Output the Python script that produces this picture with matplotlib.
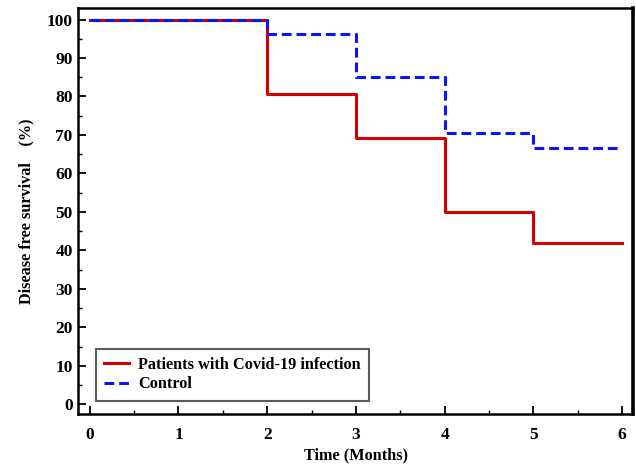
import matplotlib
matplotlib.use("Agg")
import matplotlib.pyplot as plt
from matplotlib.ticker import MultipleLocator

months = [0, 2, 3, 4, 5, 6]
covid = [100, 80.6, 69.2, 50.0, 42.0, 42.0]
control = [100, 96.2, 85.0, 70.4, 66.7, 66.7]
x_ticks = [0, 1, 2, 3, 4, 5, 6]
y_ticks = [0, 10, 20, 30, 40, 50, 60, 70, 80, 90, 100]

plt.rcParams['font.family'] = ['Liberation Serif', 'DejaVu Serif']
plt.rcParams['font.weight'] = 'bold'

fig = plt.figure(figsize=(6.36, 4.65), dpi=100)
ax = fig.add_axes([0.123, 0.109, 0.872, 0.873])

ax.step(months, covid, where='post', color='#d40000', lw=2.2,
        label='Patients with Covid-19 infection', zorder=3)
ax.step(months, control, where='post', color='#0a14ff', lw=2.2,
        ls=(0, (3.2, 1.6)), label='Control', zorder=4)

ax.set_xlim(-0.13, 6.12)
ax.set_ylim(-2.6, 102.9)
ax.set_xticks(x_ticks)
ax.set_yticks(y_ticks)
ax.xaxis.set_minor_locator(MultipleLocator(0.5))
ax.yaxis.set_minor_locator(MultipleLocator(5))
ax.tick_params(which='major', direction='in', length=6, width=1.3,
               labelsize=12.5)
ax.tick_params(axis='y', which='major', pad=4)
ax.tick_params(axis='x', which='major', pad=9)
ax.tick_params(which='minor', direction='in', length=3, width=1.0)
for lab in ax.get_xticklabels() + ax.get_yticklabels():
    lab.set_fontweight('bold')
for s in ax.spines.values():
    s.set_linewidth(1.8)
ax.spines['right'].set_linewidth(2.6)

ax.set_xlabel('Time (Months)', fontsize=11.7, fontweight='bold', labelpad=3)
ax.set_ylabel('Disease free survival    (%)', fontsize=11.7, fontweight='bold',
              labelpad=9)

leg = ax.legend(loc='lower left', bbox_to_anchor=(0.032, 0.034),
                fancybox=False, frameon=True, edgecolor='#333333',
                prop={'family': 'Liberation Serif', 'weight': 'bold', 'size': 11.7},
                handlelength=1.55, handletextpad=0.55, borderpad=0.5,
                labelspacing=0.2, borderaxespad=0.0)
leg.get_frame().set_linewidth(1.5)

fig.savefig('out.png', dpi=100)
